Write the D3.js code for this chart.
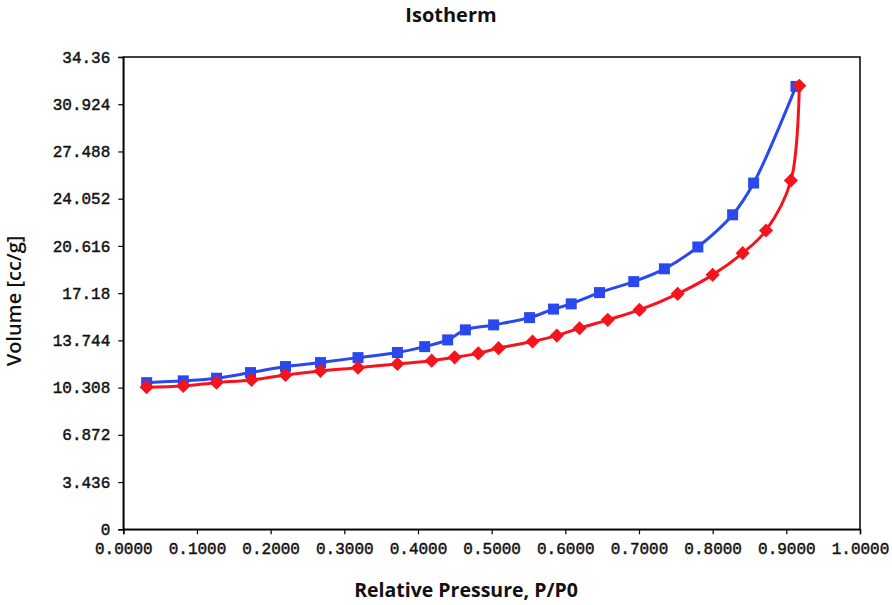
<!DOCTYPE html>
<html><head><meta charset="utf-8">
<script src="https://cdn.jsdelivr.net/npm/d3@7"></script>
<style>body{margin:0;background:#fff}svg{display:block}</style>
</head><body>
<script>
const desorpX = [0.0317,0.0814,0.1266,0.1727,0.2202,0.2677,0.3186,0.3721,0.4091,0.4403,0.4643,0.5027,0.5515,0.5840,0.6080,0.6464,0.6929,0.7345,0.7799,0.8271,0.8556,0.9131];
const desorpY = [10.67,10.80,10.99,11.40,11.84,12.13,12.49,12.86,13.29,13.78,14.51,14.87,15.40,16.02,16.40,17.22,18.02,18.95,20.54,22.88,25.19,32.22];
const adsorpX = [0.0317,0.0814,0.1266,0.1741,0.2202,0.2677,0.3186,0.3721,0.4186,0.4498,0.4819,0.5094,0.5555,0.5885,0.6193,0.6576,0.7006,0.7525,0.8000,0.8407,0.8724,0.9063,0.9176];
const adsorpY = [10.34,10.43,10.67,10.87,11.23,11.52,11.76,12.03,12.27,12.51,12.80,13.18,13.66,14.09,14.63,15.24,15.96,17.13,18.51,20.09,21.74,25.38,32.27];
const xTicks = [0,0.1,0.2,0.3,0.4,0.5,0.6,0.7,0.8,0.9,1.0];
const yTicks = [0,3.436,6.872,10.308,13.744,17.18,20.616,24.052,27.488,30.924,34.36];
const yTickLabels = ["0","3.436","6.872","10.308","13.744","17.18","20.616","24.052","27.488","30.924","34.36"];

const W=892,H=605;
const m={l:123.3,r:860,t:57,b:529.3};
const svg=d3.select("body").append("svg").attr("width",W).attr("height",H);
const x=d3.scaleLinear().domain([0,1]).range([m.l,m.r]);
const y=d3.scaleLinear().domain([0,34.36]).range([m.b,m.t]);

svg.append("rect").attr("x",m.l).attr("y",m.t).attr("width",m.r-m.l).attr("height",m.b-m.t)
  .attr("fill","none").attr("stroke","#000").attr("stroke-width",1.5);

const xa=svg.append("g").attr("transform",`translate(0,${m.b})`)
  .call(d3.axisBottom(x).tickValues(xTicks).tickFormat(d3.format(".4f")).tickSize(5).tickPadding(8));
const ya=svg.append("g").attr("transform",`translate(${m.l},0)`)
  .call(d3.axisLeft(y).tickValues(yTicks).tickFormat((d,i)=>yTickLabels[i]).tickSize(5).tickPadding(8));
[xa,ya].forEach(a=>{
  a.select(".domain").attr("stroke","#000").attr("stroke-width",1.5);
  a.selectAll(".tick line").attr("stroke","#000").attr("stroke-width",1.2);
  a.selectAll("text").attr("font-family","'Liberation Mono', monospace").attr("font-size",16)
    .attr("fill","#111").attr("stroke","#111").attr("stroke-width",0.45);
});

const line=d3.line().x(d=>x(d[0])).y(d=>y(d[1])).curve(d3.curveCatmullRom.alpha(0.5));
const des=desorpX.map((v,i)=>[v,desorpY[i]]);
const ads=adsorpX.map((v,i)=>[v,adsorpY[i]]);
const blue="#2b48ee", red="#f5141e";
svg.append("path").datum(des).attr("d",line).attr("fill","none").attr("stroke",blue).attr("stroke-width",3);
svg.append("path").datum(ads).attr("d",line).attr("fill","none").attr("stroke",red).attr("stroke-width",3);
svg.append("g").selectAll("rect").data(des).join("rect")
  .attr("x",d=>x(d[0])-5.5).attr("y",d=>y(d[1])-5.5).attr("width",11).attr("height",11).attr("fill",blue);
svg.append("g").selectAll("path").data(ads).join("path")
  .attr("d",d3.symbol().type(d3.symbolSquare).size(100))
  .attr("transform",d=>`translate(${x(d[0])},${y(d[1])}) rotate(45)`).attr("fill",red);

svg.append("text").attr("x",451).attr("y",22).attr("text-anchor","middle")
  .attr("font-family","'Open Sans', sans-serif").attr("font-weight",700).attr("font-size",20).attr("fill","#111").text("Isotherm");
svg.append("text").attr("x",466).attr("y",597).attr("text-anchor","middle")
  .attr("font-family","'Open Sans', sans-serif").attr("font-weight",700).attr("font-size",19.5).attr("fill","#111").text("Relative Pressure, P/P0");
svg.append("text").attr("transform","translate(21,301) rotate(-90)").attr("text-anchor","middle")
  .attr("font-family","'Open Sans', sans-serif").attr("font-weight",600).attr("font-size",20).attr("fill","#111").text("Volume [cc/g]");
</script>
</body></html>
